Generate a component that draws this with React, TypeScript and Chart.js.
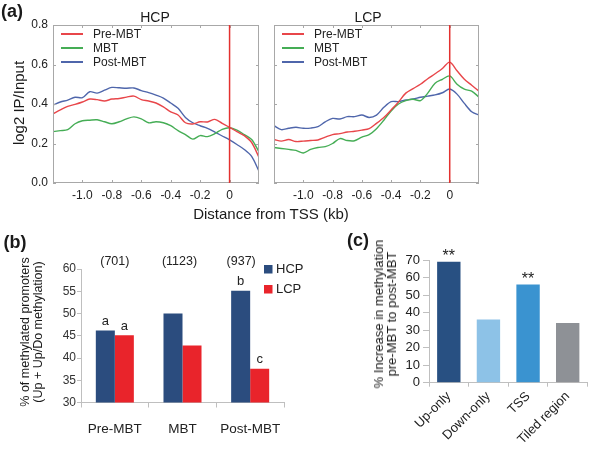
import React, { useEffect, useRef } from "react";
import { Chart, registerables } from "chart.js";

Chart.register(...registerables);

const FONT = "'Liberation Sans', Arial, Helvetica, sans-serif";
Chart.defaults.font.family = FONT;
Chart.defaults.color = "#222";

// ---------------- data: panel (a) ----------------
const distanceKb = [-1.2, -1.15, -1.1, -1.05, -1.0, -0.95, -0.9, -0.85, -0.8, -0.75, -0.7, -0.65, -0.6, -0.55, -0.5, -0.45, -0.4, -0.35, -0.3, -0.25, -0.2, -0.15, -0.1, -0.05, 0, 0.05, 0.1, 0.15, 0.2];
const seriesNames = ["Pre-MBT", "MBT", "Post-MBT"];
const hcpPre = [0.35, 0.37, 0.388, 0.398, 0.41, 0.425, 0.422, 0.415, 0.425, 0.428, 0.435, 0.44, 0.422, 0.415, 0.405, 0.385, 0.36, 0.344, 0.305, 0.299, 0.31, 0.309, 0.322, 0.302, 0.282, 0.26, 0.24, 0.205, 0.13];
const hcpMbt = [0.26, 0.265, 0.27, 0.3, 0.315, 0.318, 0.32, 0.31, 0.3, 0.31, 0.325, 0.335, 0.325, 0.305, 0.31, 0.305, 0.29, 0.265, 0.245, 0.222, 0.24, 0.235, 0.25, 0.272, 0.28, 0.268, 0.245, 0.22, 0.158];
const hcpPost = [0.395, 0.41, 0.42, 0.434, 0.432, 0.462, 0.455, 0.47, 0.484, 0.482, 0.48, 0.481, 0.468, 0.458, 0.445, 0.43, 0.405, 0.378, 0.332, 0.305, 0.29, 0.277, 0.258, 0.238, 0.218, 0.195, 0.17, 0.135, 0.06];
const lcpPre = [0.22, 0.212, 0.22, 0.21, 0.212, 0.215, 0.218, 0.232, 0.245, 0.25, 0.258, 0.262, 0.268, 0.275, 0.302, 0.332, 0.37, 0.41, 0.455, 0.478, 0.5, 0.528, 0.553, 0.58, 0.612, 0.568, 0.525, 0.495, 0.465];
const lcpMbt = [0.18, 0.175, 0.17, 0.165, 0.152, 0.17, 0.18, 0.184, 0.2, 0.225, 0.215, 0.214, 0.232, 0.245, 0.275, 0.318, 0.365, 0.4, 0.417, 0.424, 0.417, 0.455, 0.505, 0.525, 0.542, 0.5, 0.475, 0.465, 0.435];
const lcpPost = [0.29, 0.27, 0.277, 0.282, 0.277, 0.278, 0.285, 0.31, 0.327, 0.324, 0.336, 0.336, 0.344, 0.332, 0.344, 0.383, 0.412, 0.412, 0.42, 0.425, 0.434, 0.44, 0.446, 0.457, 0.476, 0.45, 0.403, 0.361, 0.344];
const distanceTicks = [-1.0, -0.8, -0.6, -0.4, -0.2, 0];
const profileTicks = [0, 0.2, 0.4, 0.6, 0.8];

// ---------------- data: panel (b) ----------------
const stageLabels = ["Pre-MBT", "MBT", "Post-MBT"];
const hcpPercent = [46.2, 50.0, 55.1];
const lcpPercent = [45.1, 42.8, 37.6];
const promoterCounts = ["(701)", "(1123)", "(937)"];
const hcpLetters = ["a", "", "b"];
const lcpLetters = ["a", "", "c"];

// ---------------- data: panel (c) ----------------
const regionLabels = ["Up-only", "Down-only", "TSS", "Tiled region"];
const increasePercent = [69, 36, 56, 34];
const significance = ["**", "", "**", ""];

// ---------------- styles ----------------
const LINE_COLORS = ["#e8464a", "#45ad55", "#4f66ab"];
const TSS_LINE = "#e3312f";
const FRAME = "#a8a8a8";
const HCP_BAR = "#2b4c7e";
const LCP_BAR = "#e9242b";
const REGION_COLORS = ["#285082", "#8dc2e7", "#3a93d0", "#8e9196"];
const AXIS_GRAY = "#bfbfbf";

const profilePlugin = {
  id: "profileDecor",
  afterDatasetsDraw(chart: any) {
    const { ctx, chartArea: a, scales } = chart;
    const x = scales.x;
    const y = scales.y;
    ctx.save();
    const seg = (x1: number, y1: number, x2: number, y2: number) => {
      ctx.beginPath();
      ctx.moveTo(x1, y1);
      ctx.lineTo(x2, y2);
      ctx.stroke();
    };
    ctx.strokeStyle = FRAME;
    ctx.lineWidth = 1;
    ctx.strokeRect(Math.round(a.left) + 0.5, Math.round(a.top) + 0.5, Math.round(a.width) - 1, Math.round(a.height) - 1);
    y.ticks.forEach((t: any) => {
      const py = Math.round(y.getPixelForValue(t.value)) + 0.5;
      seg(a.left, py, a.left + 3, py);
      seg(a.right - 3, py, a.right, py);
    });
    x.ticks.forEach((t: any) => {
      const px = Math.round(x.getPixelForValue(t.value)) + 0.5;
      seg(px, a.bottom - 3, px, a.bottom);
      seg(px, a.top, px, a.top + 3);
    });
    const x0 = x.getPixelForValue(0);
    ctx.strokeStyle = TSS_LINE;
    ctx.lineWidth = 1.5;
    seg(x0, a.top, x0, a.bottom);
    ctx.font = `12px ${FONT}`;
    ctx.textBaseline = "middle";
    ctx.textAlign = "left";
    chart.data.datasets.forEach((ds: any, i: number) => {
      const ly = a.top + 9 + i * 14;
      ctx.strokeStyle = ds.borderColor;
      ctx.lineWidth = 2;
      seg(a.left + 8, ly, a.left + 30, ly);
      ctx.fillStyle = "#222";
      ctx.fillText(ds.label, a.left + 40, ly + 0.5);
    });
    ctx.restore();
  },
};

function profileConfig(series: number[][], showY: boolean, padRight: number, yWidth: number): any {
  return {
    type: "line",
    data: {
      datasets: series.map((arr, i) => ({
        label: seriesNames[i],
        data: distanceKb.map((d, j) => ({ x: d, y: arr[j] })),
        borderColor: LINE_COLORS[i],
        borderWidth: 1.4,
        pointRadius: 0,
        tension: 0.3,
        fill: false,
      })),
    },
    options: {
      animation: false,
      responsive: false,
      maintainAspectRatio: false,
      layout: { padding: { top: 25, right: padRight, left: 0, bottom: 0 } },
      plugins: { legend: { display: false }, tooltip: { enabled: false }, title: { display: false } },
      scales: {
        x: {
          type: "linear",
          min: -1.2,
          max: 0.2,
          afterBuildTicks: (s: any) => {
            s.ticks = distanceTicks.map((v) => ({ value: v }));
          },
          afterFit: (s: any) => {
            s.height = 22;
          },
          grid: { display: false, drawTicks: false },
          border: { display: false },
          ticks: {
            padding: 5,
            autoSkip: false,
            maxRotation: 0,
            color: "#222",
            font: { size: 12 },
            callback: (v: any) => (Number(v) === 0 ? "0" : Number(v).toFixed(1)),
          },
        },
        y: {
          type: "linear",
          min: 0,
          max: 0.8,
          afterBuildTicks: (s: any) => {
            s.ticks = profileTicks.map((v) => ({ value: v }));
          },
          afterFit: (s: any) => {
            s.width = yWidth;
          },
          grid: { display: false, drawTicks: false },
          border: { display: false },
          ticks: {
            display: showY,
            autoSkip: false,
            padding: 5,
            color: "#222",
            font: { size: 12 },
            callback: (v: any) => Number(v).toFixed(1),
          },
        },
      },
    },
    plugins: [profilePlugin],
  };
}

const stagePlugin = {
  id: "stageDecor",
  afterDatasetsDraw(chart: any) {
    const { ctx, scales } = chart;
    const x = scales.x;
    ctx.save();
    ctx.fillStyle = "#222";
    ctx.textAlign = "center";
    ctx.textBaseline = "middle";
    ctx.font = `12.5px ${FONT}`;
    const countShift = [0, -3, -9];
    promoterCounts.forEach((c, i) => {
      ctx.fillText(c, x.getPixelForValue(i) + countShift[i], 22);
    });
    ctx.font = `13px ${FONT}`;
    const letters = [hcpLetters, lcpLetters];
    letters.forEach((arr, di) => {
      const meta = chart.getDatasetMeta(di);
      arr.forEach((l, i) => {
        if (!l) return;
        const bar = meta.data[i];
        ctx.fillText(l, bar.x, bar.y - 9);
      });
    });
    ctx.textAlign = "left";
    chart.data.datasets.forEach((ds: any, i: number) => {
      const ly = 29 + i * 20;
      ctx.fillStyle = ds.backgroundColor;
      ctx.fillRect(264, ly - 4, 8.5, 8.5);
      ctx.fillStyle = "#222";
      ctx.fillText(ds.label, 276, ly + 0.5);
    });
    ctx.restore();
  },
};

function stageConfig(): any {
  return {
    type: "bar",
    data: {
      labels: stageLabels,
      datasets: [
        { label: "HCP", data: hcpPercent, backgroundColor: HCP_BAR, categoryPercentage: 0.562, barPercentage: 1 },
        { label: "LCP", data: lcpPercent, backgroundColor: LCP_BAR, categoryPercentage: 0.562, barPercentage: 1 },
      ],
    },
    options: {
      animation: false,
      responsive: false,
      maintainAspectRatio: false,
      layout: { padding: { top: 29, right: 26, left: 0, bottom: 0 } },
      plugins: { legend: { display: false }, tooltip: { enabled: false } },
      scales: {
        x: {
          afterFit: (s: any) => {
            s.height = 60.5;
          },
          grid: { display: true, drawOnChartArea: false, drawTicks: true, tickLength: 5, color: AXIS_GRAY, offset: true },
          border: { color: AXIS_GRAY },
          ticks: { padding: 14, color: "#222", font: { size: 13.5 } },
        },
        y: {
          min: 30,
          max: 60,
          afterFit: (s: any) => {
            s.width = 81;
          },
          grid: { display: true, drawOnChartArea: false, drawTicks: true, tickLength: 4, color: AXIS_GRAY },
          border: { color: AXIS_GRAY },
          ticks: { stepSize: 5, autoSkip: false, padding: 1, color: "#333", font: { size: 12 } },
        },
      },
    },
    plugins: [stagePlugin],
  };
}

const regionPlugin = {
  id: "regionDecor",
  afterDatasetsDraw(chart: any) {
    const { ctx } = chart;
    const meta = chart.getDatasetMeta(0);
    ctx.save();
    ctx.fillStyle = "#222";
    ctx.textAlign = "center";
    ctx.textBaseline = "middle";
    ctx.font = `16px ${FONT}`;
    significance.forEach((s, i) => {
      if (!s) return;
      const bar = meta.data[i];
      ctx.fillText(s, bar.x, bar.y - 5);
    });
    ctx.restore();
  },
};

function regionConfig(): any {
  return {
    type: "bar",
    data: {
      labels: regionLabels,
      datasets: [
        { label: "Increase", data: increasePercent, backgroundColor: REGION_COLORS, categoryPercentage: 1, barPercentage: 0.59 },
      ],
    },
    options: {
      animation: false,
      responsive: false,
      maintainAspectRatio: false,
      layout: { padding: { top: 20, right: 12.5, left: 0, bottom: 0 } },
      plugins: { legend: { display: false }, tooltip: { enabled: false } },
      scales: {
        x: {
          afterFit: (s: any) => {
            s.height = 80.3;
          },
          grid: { display: true, drawOnChartArea: false, drawTicks: true, tickLength: 4, color: AXIS_GRAY, offset: true },
          border: { color: AXIS_GRAY },
          ticks: { padding: 2, minRotation: 45, maxRotation: 45, autoSkip: false, color: "#222", font: { size: 13 } },
        },
        y: {
          min: 0,
          max: 70,
          afterFit: (s: any) => {
            s.width = 89;
          },
          grid: { display: true, drawOnChartArea: false, drawTicks: true, tickLength: 6, color: AXIS_GRAY },
          border: { color: AXIS_GRAY },
          ticks: { stepSize: 10, autoSkip: false, padding: 3, color: "#222", font: { size: 13 } },
        },
      },
    },
    plugins: [regionPlugin],
  };
}

function ChartCanvas(props: { left: number; top: number; width: number; height: number; config: () => any }) {
  const ref = useRef<HTMLCanvasElement | null>(null);
  useEffect(() => {
    if (!ref.current) return;
    const chart = new Chart(ref.current, props.config());
    return () => chart.destroy();
  }, []);
  return (
    <canvas
      ref={ref}
      width={props.width}
      height={props.height}
      style={{ position: "absolute", left: props.left, top: props.top, width: props.width, height: props.height }}
    />
  );
}

function Label(props: { x: number; y: number; text: string; size: number; bold?: boolean; rotate?: number; lineHeight?: number }) {
  return (
    <div
      style={{
        position: "absolute",
        left: props.x,
        top: props.y,
        transform: `translate(-50%, -50%) rotate(${props.rotate || 0}deg)`,
        fontFamily: FONT,
        fontSize: props.size,
        fontWeight: props.bold ? "bold" : "normal",
        lineHeight: props.lineHeight ? `${props.lineHeight}px` : 1,
        whiteSpace: "pre",
        textAlign: "center",
        color: "#1a1a1a",
      }}
    >
      {props.text}
    </div>
  );
}

export default function App() {
  return (
    <div style={{ position: "absolute", left: 0, top: 0, width: 600, height: 463, background: "#fff", overflow: "hidden" }}>
      <ChartCanvas left={0} top={0} width={270} height={205} config={() => profileConfig([hcpPre, hcpMbt, hcpPost], true, 11, 53)} />
      <ChartCanvas left={270} top={0} width={215} height={205} config={() => profileConfig([lcpPre, lcpMbt, lcpPost], false, 6, 4)} />
      <ChartCanvas left={0} top={240} width={310} height={223} config={stageConfig} />
      <ChartCanvas left={340} top={240} width={260} height={223} config={regionConfig} />

      <Label x={12} y={11} text="(a)" size={18} bold />
      <Label x={155} y={17} text="HCP" size={14} />
      <Label x={368} y={17} text="LCP" size={14} />
      <Label x={18} y={103} text="log2 IP/Input" size={15} rotate={-90} />
      <Label x={271} y={213} text="Distance from TSS (kb)" size={15} />

      <Label x={15} y={241.5} text="(b)" size={18} bold />
      <Label x={32} y={332} text={"% of methylated promoters\n(Up + Up/Do methylation)"} size={12.5} rotate={-90} lineHeight={13} />

      <Label x={358} y={240} text="(c)" size={18} bold />
      <Label x={385} y={314} text={"% Increase in methylation\npre-MBT to post-MBT"} size={13} rotate={-90} lineHeight={13} />
    </div>
  );
}
